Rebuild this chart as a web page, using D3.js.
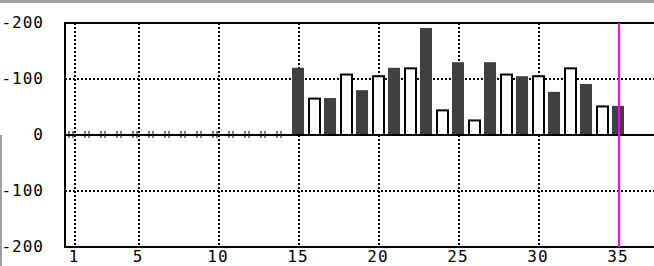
<!DOCTYPE html>
<html>
<head>
<meta charset="utf-8">
<script src="https://cdnjs.cloudflare.com/ajax/libs/d3/7.8.5/d3.min.js"></script>
<style>
  body { margin: 0; background: #fff; }
  svg { display: block; }
  text { font-family: "DejaVu Sans Mono", monospace; font-size: 16px; letter-spacing: 1px; fill: #000; }
</style>
</head>
<body>
<script>
// data
var days = [1, 2, 3, 4, 5, 6, 7, 8, 9, 10, 11, 12, 13, 14, 15, 16, 17, 18,
            19, 20, 21, 22, 23, 24, 25, 26, 27, 28, 29, 30, 31, 32, 33, 34, 35];
var values = [0, 0, 0, 0, 0, 0, 0, 0, 0, 0, 0, 0, 0, 0,
              120, 65, 66, 108, 80, 105, 120, 119, 191, 44, 130, 26, 130, 108, 105, 105, 77, 119, 91, 51, 52];
var xTicks = [1, 5, 10, 15, 20, 25, 30, 35];
var yTicks = [200, 100, 0, -100, -200];
var yTickLabels = ["-200", "-100", "0", "-100", "-200"];
var markerDay = 35;

var W = 654, H = 266;
// note: "top" is taken by window.top, so use plot* names
var plotL = 65, plotT = 23, plotB = 247, plotR = 654;

var svg = d3.select("body").append("svg").attr("width", W).attr("height", H);

// scales
var x = d3.scaleLinear().domain([1, 35]).range([75, 619]);
var y = d3.scaleLinear().domain([-200, 200]).range([plotB, plotT]);

// window frame (grey edges)
svg.append("rect").attr("x", 0).attr("y", 0).attr("width", W).attr("height", 3).attr("fill", "#a0a0a0");
svg.append("rect").attr("x", 0).attr("y", 135).attr("width", 2).attr("height", H - 135).attr("fill", "#a0a0a0");

// dotted grid
svg.selectAll("line.vgrid")
  .data(xTicks.filter(function (d) { return d != markerDay; }))
  .enter().append("line")
  .attr("class", "vgrid")
  .attr("x1", function (d) { return x(d); })
  .attr("x2", function (d) { return x(d); })
  .attr("y1", plotT).attr("y2", plotB)
  .attr("stroke", "#000").attr("stroke-width", 2).attr("stroke-dasharray", "2,2");

svg.selectAll("line.hgrid")
  .data([100, -100])
  .enter().append("line")
  .attr("class", "hgrid")
  .attr("x1", plotL).attr("x2", plotR)
  .attr("y1", function (d) { return y(d); })
  .attr("y2", function (d) { return y(d); })
  .attr("stroke", "#000").attr("stroke-width", 2).attr("stroke-dasharray", "2,2");

// bars: odd days dark, even days white with outline
var bars = days.map(function (d, i) { return { day: d, v: values[i] }; });

svg.selectAll("rect.bar")
  .data(bars.filter(function (d) { return d.v > 0; }))
  .enter().append("rect")
  .attr("class", "bar")
  .attr("x", function (d) { return d.day % 2 ? x(d.day) - 7 : x(d.day) - 6; })
  .attr("width", function (d) { return d.day % 2 ? 12 : 11; })
  .attr("y", function (d) { return y(d.v); })
  .attr("height", function (d) { return y(0) - y(d.v); })
  .attr("fill", function (d) { return d.day % 2 ? "#404040" : "#fff"; })
  .attr("stroke", function (d) { return d.day % 2 ? "none" : "#000"; })
  .attr("stroke-width", 2);

// small markers for empty days
var empty = bars.filter(function (d) { return d.v == 0; });
var mk = svg.selectAll("g.mk").data(empty).enter().append("g").attr("class", "mk");
mk.append("line")
  .attr("x1", function (d) { return x(d.day) - 6; })
  .attr("x2", function (d) { return x(d.day) - 6; })
  .attr("y1", y(0) - 4).attr("y2", y(0) + 3)
  .attr("stroke", "#000").attr("stroke-width", 1);
mk.append("line")
  .attr("x1", function (d) { return x(d.day) - 2; })
  .attr("x2", function (d) { return x(d.day) - 2; })
  .attr("y1", y(0) - 4).attr("y2", y(0) + 3)
  .attr("stroke", "#000").attr("stroke-width", 1);

// axes / frame lines
svg.append("line").attr("x1", plotL - 1).attr("x2", plotR).attr("y1", plotT).attr("y2", plotT).attr("stroke", "#000").attr("stroke-width", 2);
svg.append("line").attr("x1", plotL - 1).attr("x2", plotR).attr("y1", plotB).attr("y2", plotB).attr("stroke", "#000").attr("stroke-width", 2);
svg.append("line").attr("x1", plotL - 1).attr("x2", plotR).attr("y1", y(0)).attr("y2", y(0)).attr("stroke", "#000").attr("stroke-width", 2);
svg.append("line").attr("x1", plotL).attr("x2", plotL).attr("y1", plotT - 1).attr("y2", plotB + 1).attr("stroke", "#000").attr("stroke-width", 2);

// magenta marker line
svg.append("line")
  .attr("x1", x(markerDay)).attr("x2", x(markerDay))
  .attr("y1", plotT).attr("y2", plotB)
  .attr("stroke", "#ff00ff").attr("stroke-width", 2);

// y labels
svg.selectAll("text.ylab")
  .data(yTicks)
  .enter().append("text")
  .attr("class", "ylab")
  .attr("x", 44)
  .attr("y", function (d) { return y(d) + 5; })
  .attr("text-anchor", "end")
  .text(function (d, i) { return yTickLabels[i]; });

// x labels
svg.selectAll("text.xlab")
  .data(xTicks)
  .enter().append("text")
  .attr("class", "xlab")
  .attr("x", function (d) { return x(d) - 1; })
  .attr("y", 262)
  .attr("text-anchor", "middle")
  .text(function (d) { return d; });
</script>
</body>
</html>
